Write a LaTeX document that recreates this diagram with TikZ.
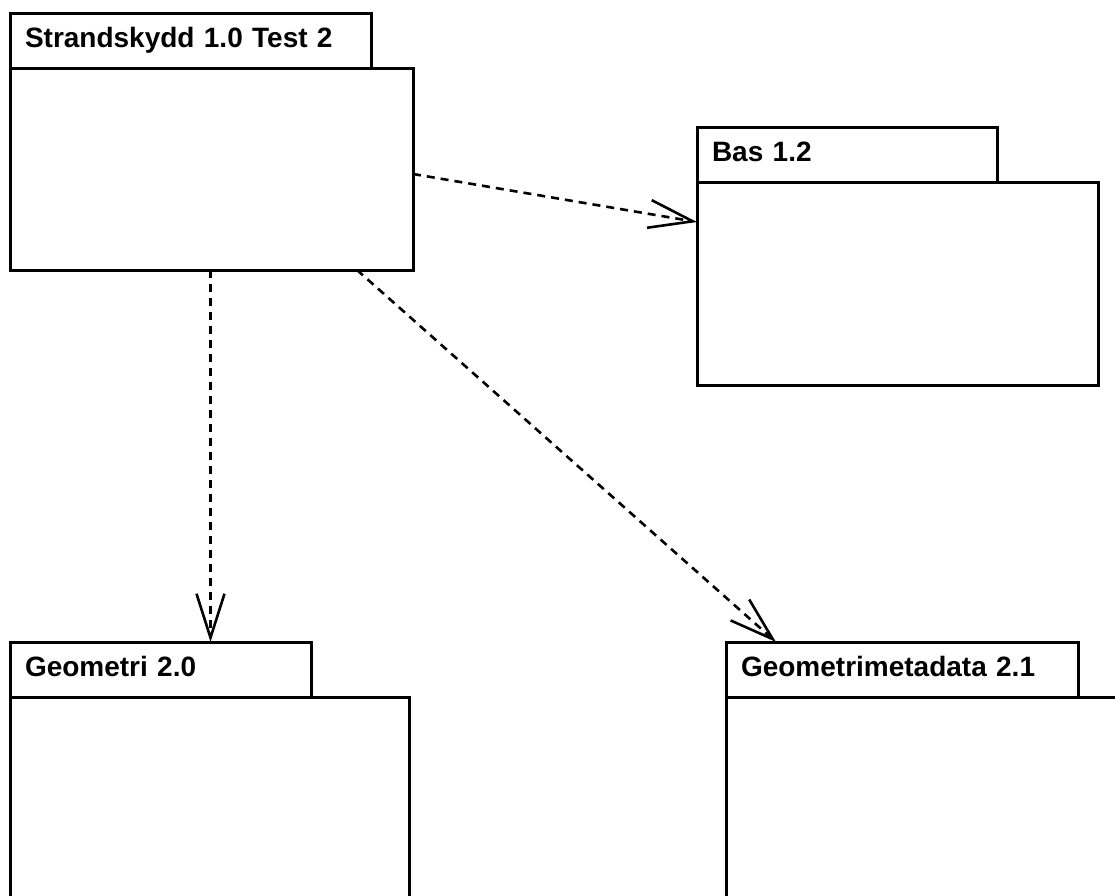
\documentclass[tikz,border=0pt]{standalone}
\usepackage{fontspec}
\setmainfont{Liberation Sans}
\usepackage{tikz}
\usetikzlibrary{arrows.meta, positioning}
\tikzset{
    tabnode/.style = {draw, rectangle, outer sep=0pt, inner xsep=15pt, inner ysep=0pt,
      minimum height=55pt, align=left, text height=20pt, text depth=6pt,
      font=\fontsize{28}{34}\selectfont\bfseries},
    bodynode/.style = {draw, rectangle, outer sep=0pt, inner sep=0pt},
    depends/.style = {black, line width=2.6pt, dash pattern=on 8pt off 6pt,
      -{Straight Barb[length=44pt, width=28pt, line width=2.6pt]}},
    every node/.style = {line width=3pt}
}
\begin{document}
\begin{tikzpicture}[x=1pt, y=-1pt]
    \clip (0,0) rectangle (1115,895);
    \fill[white] (0,0) rectangle (1115,895);

    \node [name=strtab, tabnode, anchor=north west, text width=331pt] at (10,13) {Strandskydd 1.0 Test 2};
    \node [name=str, bodynode, minimum width=403pt, minimum height=202pt,
        below right=0pt of strtab.south west] {};

    \node [name=bastab, tabnode, anchor=north west, text width=270pt] at (697,127) {Bas 1.2};
    \node [name=bas, bodynode, minimum width=401pt, minimum height=203pt,
        below right=0pt of bastab.south west] {};

    \node [name=geotab, tabnode, anchor=north west, text width=271pt] at (10,642) {Geometri 2.0};
    \node [name=geo, bodynode, minimum width=399pt, minimum height=300pt,
        below right=0pt of geotab.south west] {};

    \node [name=metatab, tabnode, anchor=north west, text width=322pt] at (726,642) {Geometrimetadata 2.1};
    \node [name=meta, bodynode, minimum width=400pt, minimum height=300pt,
        below right=0pt of metatab.south west] {};

    \draw [depends] ([yshift=-5pt]str.east) -- ([yshift=-40pt]bas.north west);
    \draw [depends] ([xshift=-1pt]str.south) -- ([xshift=-1pt]str.south |- geotab.north);
    \draw [depends] ([xshift=-56pt]str.south east) -- ([xshift=50pt]metatab.north west);
\end{tikzpicture}
\end{document}
